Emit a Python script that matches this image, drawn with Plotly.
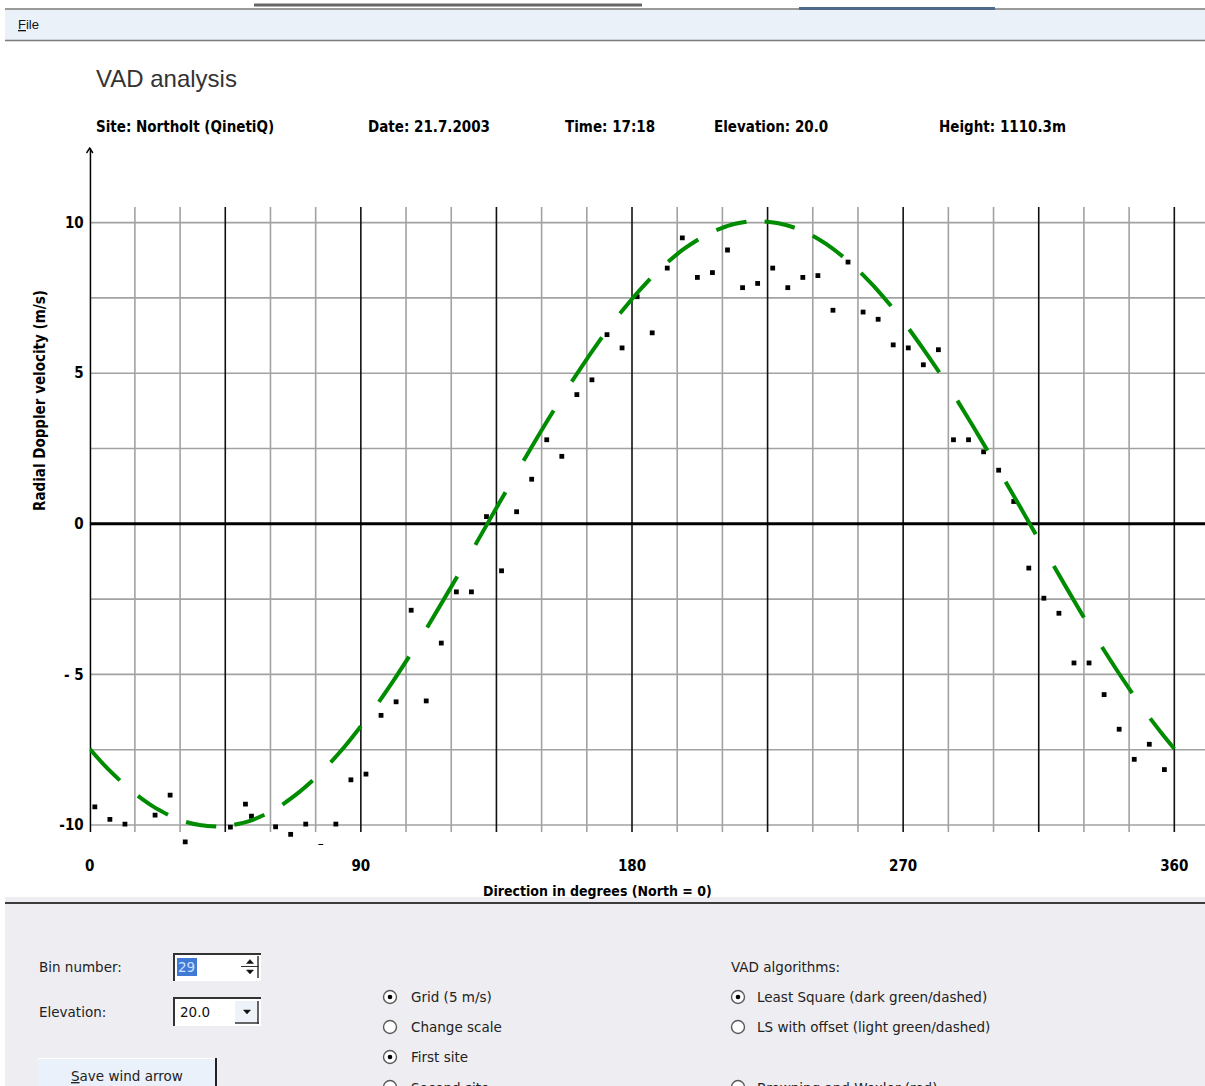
import plotly.graph_objects as go

W, H = 1205, 1086

# Measured radial Doppler velocities per azimuth (deg, m/s)
obs_deg = [1.7, 6.7, 11.7, 16.7, 21.7, 26.7, 31.7, 36.7, 41.7, 46.7, 51.7, 53.7,
           56.7, 58.7, 61.7, 66.7, 71.7, 76.7, 81.7, 86.7, 91.7, 96.7, 101.7, 106.7,
           111.7, 116.7, 121.7, 126.7, 131.7, 136.7, 141.7, 146.7, 151.7, 156.7,
           161.7, 166.7, 171.7, 176.7, 181.7, 186.7, 191.7, 196.7, 201.7, 206.7,
           211.7, 216.7, 221.7, 226.7, 231.7, 236.7, 241.7, 246.7, 251.7, 256.7,
           261.7, 266.7, 271.7, 276.7, 281.7, 286.7, 291.7, 296.7, 301.7, 306.7,
           311.7, 316.7, 321.7, 326.7, 331.7, 336.7, 341.7, 346.7, 351.7, 356.7]
obs_vel = [-9.40, -9.81, -9.97, -11.47, -9.67, -9.01, -10.56, -10.92, -10.96, -10.07,
           -9.31, -9.71, -11.22, -11.17, -10.06, -10.31, -9.97, -10.71, -9.97, -8.50,
           -8.31, -6.36, -5.91, -2.87, -5.88, -3.96, -2.26, -2.26, 0.24, -1.56,
           0.40, 1.48, 2.79, 2.24, 4.29, 4.78, 6.28, 5.84, 7.54, 6.34,
           8.49, 9.49, 8.18, 8.34, 9.09, 7.84, 7.98, 8.49, 7.84, 8.18,
           8.24, 7.09, 8.69, 7.03, 6.79, 5.94, 5.84, 5.28, 5.78, 2.79,
           2.79, 2.39, 1.78, 0.74, -1.47, -2.47, -2.97, -4.62, -4.62, -5.67,
           -6.82, -7.82, -7.32, -8.16]

# Least-square VAD fit, sampled as dashes of three points (start, middle, end)
fit_deg = [0, 5, 10, 16, 21, 26, 32, 37, 42, 48, 53, 58, 64, 69, 74, 80, 85, 90,
           96, 101, 106, 112, 117, 122, 128, 133, 138, 144, 149, 154, 160, 165, 170,
           176, 181, 186, 192, 197, 202, 208, 213, 218, 224, 229, 234, 240, 245, 250,
           256, 261, 266, 272, 277, 282, 288, 293, 298, 304, 309, 314, 320, 325, 330,
           336, 341, 346, 352, 356, 360]
fit_vel = [-7.47, -8.03, -8.52, -9.03, -9.38, -9.66, -9.90, -10.01, -10.05,
           -9.99, -9.87, -9.66, -9.32, -8.95, -8.52, -7.92, -7.35, -6.72,
           -5.91, -5.18, -4.41, -3.44, -2.60, -1.75, -0.70, 0.18, 1.05,
           2.09, 2.94, 3.76, 4.72, 5.47, 6.19, 6.98, 7.58, 8.13,
           8.70, 9.11, 9.44, 9.75, 9.93, 10.03, 10.04, 9.97, 9.83,
           9.56, 9.25, 8.87, 8.33, 7.81, 7.23, 6.46, 5.76, 5.03,
           4.09, 3.27, 2.43, 1.40, 0.53, -0.35, -1.40, -2.26, -3.11,
           -4.09, -4.87, -5.62, -6.46, -6.98, -7.47]

x_ticks = [0, 90, 180, 270, 360]
x_tick_text = ["0", "90", "180", "270", "360"]
y_ticks = [10, 5, 0, -5, -10]
y_tick_text = ["10", "5", "0", "- 5", "-10"]

header_labels = ["Site: Northolt (QinetiQ)", "Date: 21.7.2003", "Time: 17:18",
                 "Elevation: 20.0", "Height: 1110.3m"]

NARROW = "Liberation Sans Narrow, DejaVu Sans Condensed, Arial Narrow, sans-serif"
UI = "DejaVu Sans, Liberation Sans, Arial, sans-serif"
UI_SIZE = 13.5

# page geometry: the graph div starts 5 px in and is 1200 px wide on screen
OFF_X, VIEW_W = 5, 1200

# plot frame in screen pixels
LEFT, RIGHT, TOP, BOTTOM = 89.7, 1205, 148, 845
PX_PER_DEG = 3.0128
PX_PER_MS = 30.12
ZERO_Y = 523.8
x_max = (RIGHT - LEFT) / PX_PER_DEG
y_top = (ZERO_Y - TOP) / PX_PER_MS
y_bot = (ZERO_Y - BOTTOM) / PX_PER_MS
grid_top = (ZERO_Y - 207) / PX_PER_MS
grid_bot = (ZERO_Y - 832) / PX_PER_MS


def fx(p):
    return (p - OFF_X) / VIEW_W


def fy(p):
    return 1 - p / H


# break the fit into separate dashes
dash_x, dash_y = [], []
for i in range(0, len(fit_deg), 3):
    dash_x += fit_deg[i:i + 3] + [None]
    dash_y += fit_vel[i:i + 3] + [None]

fig = go.Figure()
fig.add_trace(go.Scatter(x=obs_deg, y=obs_vel, mode="markers",
                         marker=dict(symbol="square", size=4.8, color="black",
                                     line=dict(width=0)),
                         hoverinfo="skip", showlegend=False))
fig.add_trace(go.Scatter(x=dash_x, y=dash_y, mode="lines",
                         line=dict(color="#008c00", width=4, shape="spline"),
                         connectgaps=False, hoverinfo="skip", showlegend=False))

shapes = []
# horizontal grid every 2.5 m/s
for k in range(-4, 5):
    v = k * 2.5
    if v == 0:
        continue
    shapes.append(dict(type="line", xref="x", yref="y", x0=0, x1=x_max, y0=v, y1=v,
                       line=dict(color="#a2a2a2", width=1.6), layer="below"))
# vertical grid every 15 degrees, darker every 45
for d in range(15, 361, 15):
    col = "#111111" if d % 45 == 0 else "#a2a2a2"
    shapes.append(dict(type="line", xref="x", yref="y", x0=d, x1=d, y0=grid_bot, y1=grid_top,
                       line=dict(color=col, width=1.6), layer="below"))
# zero line and vertical axis with arrow
shapes.append(dict(type="line", xref="x", yref="y", x0=0, x1=x_max, y0=0, y1=0,
                   line=dict(color="black", width=3), layer="below"))
shapes.append(dict(type="line", xref="x", yref="y", x0=0, x1=0, y0=grid_bot, y1=y_top - 0.02,
                   line=dict(color="black", width=3), layer="below"))
shapes.append(dict(type="path", xref="paper", yref="paper",
                   path=f"M {fx(86.5)} {fy(153)} L {fx(89.7)} {fy(148)} L {fx(92.9)} {fy(153)}",
                   line=dict(color="black", width=1.4), layer="below"))


def rect(x0, y0, x1, y1, fill, line_col=None, lw=0, layer="above"):
    shapes.append(dict(type="rect", xref="paper", yref="paper",
                       x0=fx(x0), x1=fx(x1), y0=fy(y1), y1=fy(y0), fillcolor=fill,
                       line=dict(color=line_col or fill, width=lw), layer=layer))


def hline(x0, x1, y, col, lw):
    shapes.append(dict(type="line", xref="paper", yref="paper", x0=fx(x0), x1=fx(x1),
                       y0=fy(y), y1=fy(y), line=dict(color=col, width=lw), layer="above"))


def vline(x, y0, y1, col, lw):
    shapes.append(dict(type="line", xref="paper", yref="paper", x0=fx(x), x1=fx(x),
                       y0=fy(y0), y1=fy(y1), line=dict(color=col, width=lw), layer="above"))


def tri(cx, cy, up, col="#111111"):
    s = 3.5
    if up:
        p = f"M {fx(cx - s)} {fy(cy + 2)} L {fx(cx + s)} {fy(cy + 2)} L {fx(cx)} {fy(cy - 2)} Z"
    else:
        p = f"M {fx(cx - s)} {fy(cy - 2)} L {fx(cx + s)} {fy(cy - 2)} L {fx(cx)} {fy(cy + 2)} Z"
    shapes.append(dict(type="path", xref="paper", yref="paper", path=p,
                       fillcolor=col, line=dict(color=col, width=0.5), layer="above"))


def radio(cx, cy, checked):
    r = 6.5
    shapes.append(dict(type="circle", xref="paper", yref="paper",
                       x0=fx(cx - r), x1=fx(cx + r), y0=fy(cy + r), y1=fy(cy - r),
                       fillcolor="white", line=dict(color="#5a5a5a", width=1.4), layer="above"))
    if checked:
        d = 2.3
        shapes.append(dict(type="circle", xref="paper", yref="paper",
                           x0=fx(cx - d), x1=fx(cx + d), y0=fy(cy + d), y1=fy(cy - d),
                           fillcolor="black", line=dict(color="black", width=0), layer="above"))


# window chrome: strip at the top and menu bar
hline(254, 642, 5, "#666666", 3)
rect(5, 8, W, 10, "#9a9a9a")
rect(799, 7, 995, 10, "#4e6a8a")
rect(5, 10, W, 40, "#eaf1f9")
hline(5, W, 40.5, "#7c7c7c", 1.5)

# control panel
rect(5, 897, W, H, "#eeedf1")
hline(5, W, 903, "#3c3c3c", 2.2)
# spin box
rect(173, 953, 261, 981, "white")
hline(173, 261, 954, "#333333", 2)
vline(174, 953, 981, "#333333", 2)
rect(177, 958, 197, 976, "#3f7bd6")
hline(241, 259, 966.5, "#333333", 1)
vline(258, 956, 978, "#333333", 1.5)
tri(250, 961.5, True)
tri(250, 972, False)
# combo box
rect(173, 997, 261, 1026, "white")
hline(173, 261, 998, "#333333", 2)
vline(174, 997, 1026, "#333333", 2)
rect(235, 1001, 258, 1023, "#eef3fa")
hline(235, 259, 1023, "#333333", 1.5)
vline(258, 1001, 1024, "#333333", 1.5)
tri(247, 1012, False)
# button
rect(38, 1058, 217, H, "#eaf1fb")
hline(38, 217, 1058.5, "#ffffff", 1)
vline(216, 1058, H, "#222222", 2)
# radio buttons
for cy, on in [(997, True), (1027, False), (1057, True), (1087, False)]:
    radio(390, cy, on)
for cy, on in [(997, True), (1027, False), (1087, False)]:
    radio(738, cy, on)

annotations = []


def text(x, y, s, size, family=UI, color="#222222", xanchor="left", yanchor="middle", angle=0):
    # annotation boxes carry ~2 px of padding; compensate for left-anchored text
    shift = -2 if xanchor == "left" else 0
    annotations.append(dict(xref="paper", yref="paper", x=fx(x + shift), y=fy(y), text=s,
                            showarrow=False, xanchor=xanchor, yanchor=yanchor,
                            textangle=angle, font=dict(family=family, size=size, color=color)))


text(96, 79, "VAD analysis", 24, family="Liberation Sans, Arial, sans-serif", color="#333333")
for xpos, lab in zip([96, 368, 565, 714, 939], header_labels):
    text(xpos, 127, f"<b>{lab}</b>", 15, family=NARROW, color="black")
text(40, 401, "<b>Radial Doppler velocity (m/s)</b>", 15, family=NARROW, color="black",
     xanchor="center", angle=-90)
text(597, 891, "<b>Direction in degrees (North = 0)</b>", 14, family=NARROW, color="black",
     xanchor="center")

text(18, 25, "<u>F</u>ile", 13, family="Liberation Sans, Arial, sans-serif", color="#111111")
text(39, 967, "Bin number:", UI_SIZE)
text(39, 1012, "Elevation:", UI_SIZE)
text(178, 967, "29", UI_SIZE, color="#cfe0ff")
text(180, 1012, "20.0", UI_SIZE, color="#111111")
text(127, 1076, "<u>S</u>ave wind arrow", UI_SIZE, xanchor="center")
text(411, 997, "Grid (5 m/s)", UI_SIZE)
text(411, 1027, "Change scale", UI_SIZE)
text(411, 1057, "First site", UI_SIZE)
text(411, 1078, "Second site", UI_SIZE, yanchor="top")
text(731, 967, "VAD algorithms:", UI_SIZE)
text(757, 997, "Least Square (dark green/dashed)", UI_SIZE)
text(757, 1027, "LS with offset (light green/dashed)", UI_SIZE)
text(757, 1078, "Browning and Wexler (red)", UI_SIZE, yanchor="top")

fig.update_layout(
    width=W, height=H, margin=dict(l=0, r=0, t=0, b=0),
    paper_bgcolor="white", plot_bgcolor="white",
    shapes=shapes, annotations=annotations, showlegend=False,
    xaxis=dict(domain=[fx(LEFT), 1], range=[0, x_max], showgrid=False, zeroline=False,
               showline=False, ticks="", tickmode="array", tickvals=x_ticks,
               ticktext=[f"<b>{t}</b>" for t in x_tick_text], ticklabelstandoff=10,
               tickfont=dict(family=NARROW, size=15, color="black"), fixedrange=True),
    yaxis=dict(domain=[fy(BOTTOM), fy(TOP)], range=[y_bot, y_top], showgrid=False,
               zeroline=False, showline=False, ticks="", tickmode="array", tickvals=y_ticks,
               ticktext=[f"<b>{t}</b>" for t in y_tick_text], ticklabelstandoff=5,
               tickfont=dict(family=NARROW, size=15, color="black"), fixedrange=True),
)

fig.write_html("out.html")
